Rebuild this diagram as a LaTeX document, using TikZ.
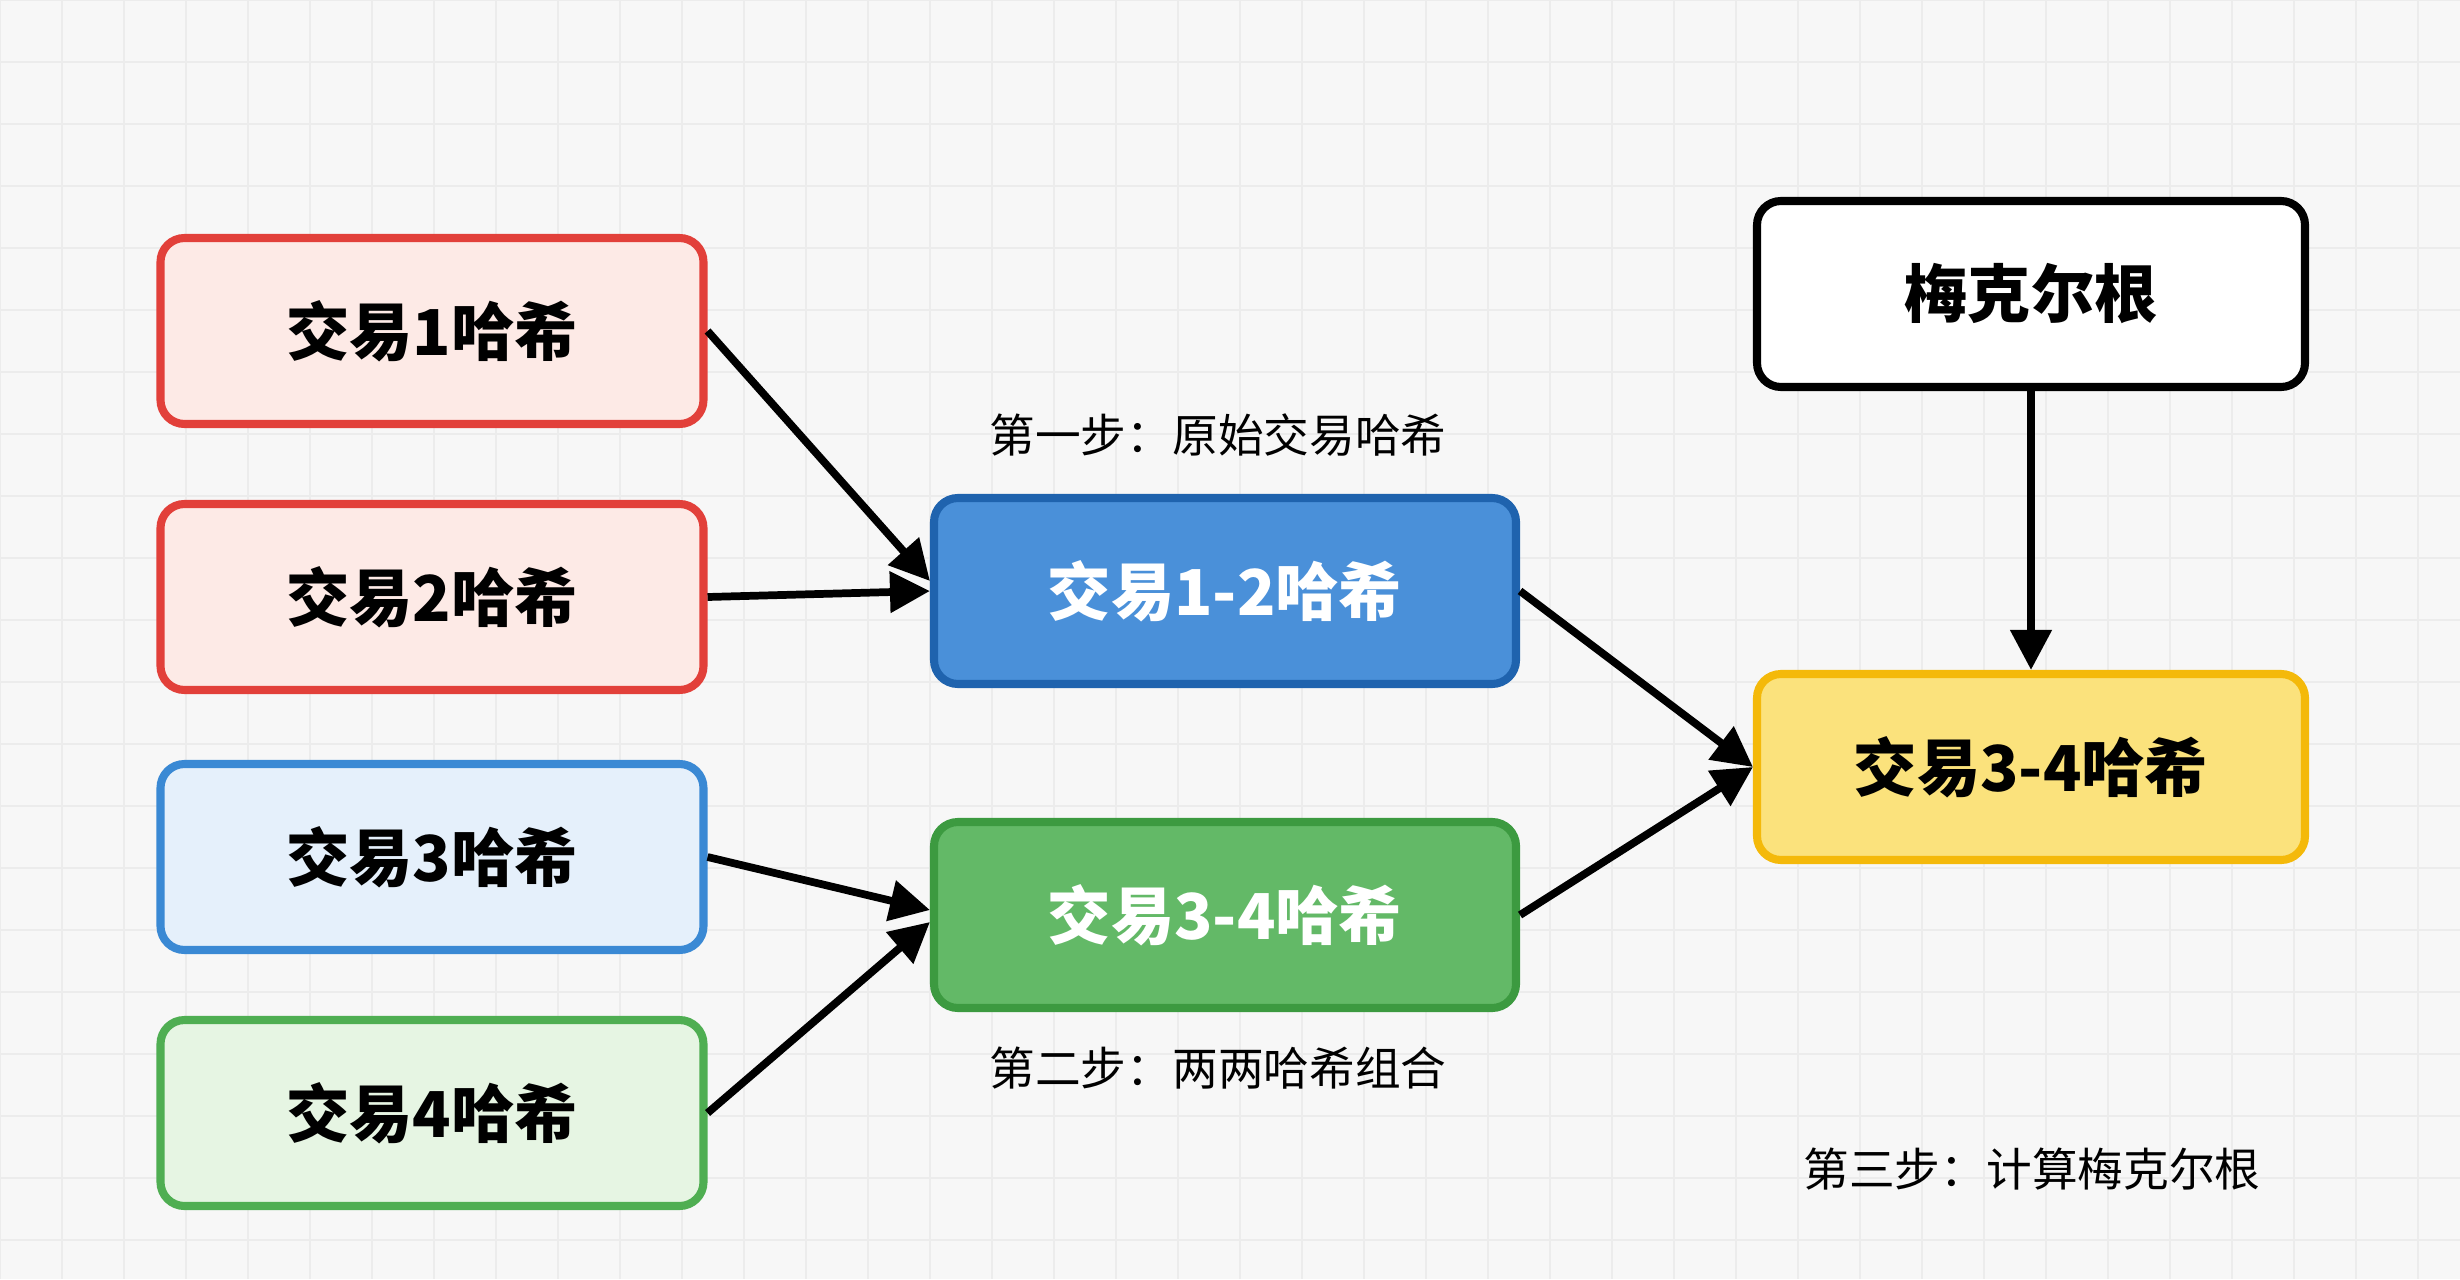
\documentclass[tikz,border=0pt]{standalone}
\usepackage{fontspec}
\usepackage{tikz}
\usetikzlibrary{arrows.meta}
\newfontfamily\cjk{Noto Sans CJK SC}
\definecolor{bgcol}{HTML}{F7F7F7}
\definecolor{gridcol}{HTML}{ECECEC}
\definecolor{redline}{HTML}{E2403A}
\definecolor{redfill}{HTML}{FDEAE6}
\definecolor{blueline}{HTML}{3A89D4}
\definecolor{bluefill}{HTML}{E5F0FB}
\definecolor{greenline}{HTML}{4FAE52}
\definecolor{greenfill}{HTML}{E6F5E3}
\definecolor{midblueline}{HTML}{1F63AE}
\definecolor{midbluefill}{HTML}{4A90D9}
\definecolor{midgreenline}{HTML}{3C9A40}
\definecolor{midgreenfill}{HTML}{63B967}
\definecolor{yellowline}{HTML}{F4B90A}
\definecolor{yellowfill}{HTML}{FBE27C}

\begin{document}
\begin{tikzpicture}[
  every node/.style={inner sep=0pt},
  hashbox/.style={draw, rounded corners=0.24cm, line width=2.3pt, minimum width=5.43cm, minimum height=1.86cm, font=\cjk\bfseries\fontsize{18}{20}\selectfont},
  midbox/.style={hashbox, minimum width=5.82cm, text=white},
  rootbox/.style={hashbox, minimum width=5.48cm},
  steplabel/.style={font=\cjk\fontsize{13}{15}\selectfont},
  link/.style={line width=2.2pt, -{Triangle[length=0.4cm,width=0.4cm]}}
]
\useasboundingbox (0,0) rectangle (24.6,-12.79);
\fill [bgcol] (0,0) rectangle (24.6,-12.79);
\draw [gridcol, line width=0.5pt] (0,0) grid [step=0.62] (24.6,-12.79);
\node [hashbox, draw=redline, fill=redfill] (tx1) at (4.32,-3.31) {交易1哈希};
\node [hashbox, draw=redline, fill=redfill] (tx2) at (4.32,-5.97) {交易2哈希};
\node [hashbox, draw=blueline, fill=bluefill] (tx3) at (4.32,-8.57) {交易3哈希};
\node [hashbox, draw=greenline, fill=greenfill] (tx4) at (4.32,-11.13) {交易4哈希};
\node [midbox, draw=midblueline, fill=midbluefill] (tx12) at (12.25,-5.91) {交易1-2哈希};
\node [midbox, draw=midgreenline, fill=midgreenfill] (tx34) at (12.25,-9.15) {交易3-4哈希};
\node [rootbox, draw=black, fill=white] (root) at (20.31,-2.94) {梅克尔根};
\node [rootbox, draw=yellowline, fill=yellowfill] (top) at (20.31,-7.67) {交易3-4哈希};
\node [steplabel] (step1) at (12.18,-4.35) {第一步：原始交易哈希};
\node [steplabel] (step2) at (12.18,-10.68) {第二步：两两哈希组合};
\node [steplabel] (step3) at (20.32,-11.69) {第三步：计算梅克尔根};
\draw [link] (tx1.east) -- ([yshift=0.1cm]tx12.west);
\draw [link] (tx2.east) -- (tx12.west);
\draw [link] (tx3.east) -- ([yshift=0.05cm]tx34.west);
\draw [link] (tx4.east) -- ([yshift=-0.07cm]tx34.west);
\draw [link] (tx12.east) -- (top.west);
\draw [link] (tx34.east) -- (top.west);
\draw [link] (root.south) -- (top.north);
\end{tikzpicture}
\end{document}
